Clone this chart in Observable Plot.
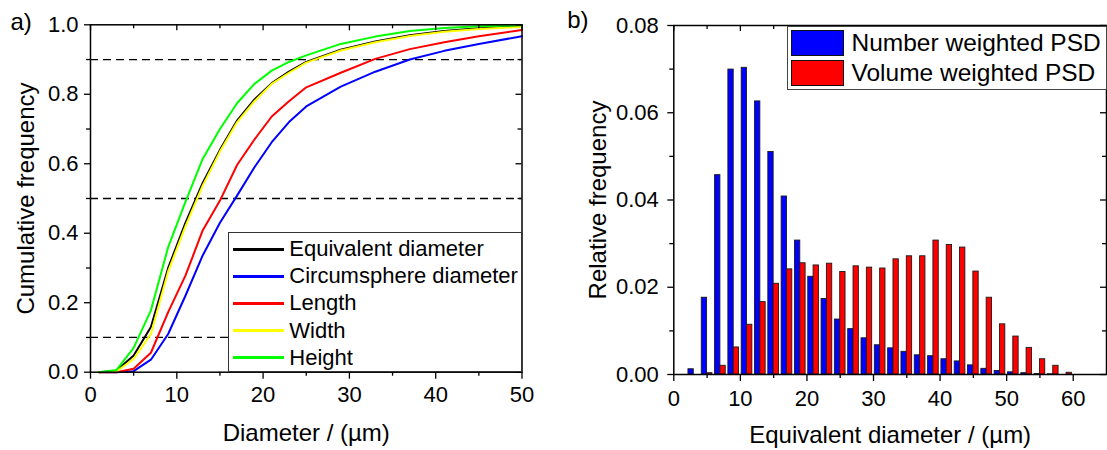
<!DOCTYPE html>
<html>
<head>
<meta charset="utf-8">
<script src="https://cdn.jsdelivr.net/npm/d3@7"></script>
<script src="https://cdn.jsdelivr.net/npm/@observablehq/plot@0.6"></script>
<style>
  html, body { margin: 0; padding: 0; background: #fff; }
  #wrap { position: relative; width: 1107px; height: 450px; display: flex; font-family: 'Liberation Sans', Arial, sans-serif; }
  #wrap svg { max-width: none; display: block; }
  .legend { position: absolute; background: #fff; box-sizing: border-box; }
  .item { position: absolute; white-space: nowrap; color: #000; }
</style>
</head>
<body>
<div id="wrap"></div>
<script>
// ---------- Panel a) cumulative frequency ----------
const diameter = [1, 3, 5, 7, 9, 11, 13, 15, 17, 19, 21, 23, 25, 29, 33, 37, 41, 45, 50];
const equivalentDiameter = [0, 0.004, 0.048, 0.13, 0.30, 0.43, 0.545, 0.64, 0.725, 0.785, 0.832, 0.865, 0.893, 0.928, 0.952, 0.970, 0.982, 0.990, 0.996];
const circumsphereDiameter = [0, 0, 0.003, 0.036, 0.11, 0.22, 0.336, 0.43, 0.509, 0.59, 0.662, 0.72, 0.765, 0.822, 0.865, 0.90, 0.925, 0.945, 0.967];
const lengthCum = [0, 0, 0.01, 0.056, 0.173, 0.278, 0.408, 0.494, 0.597, 0.67, 0.736, 0.78, 0.82, 0.862, 0.902, 0.93, 0.95, 0.967, 0.985];
const widthCum = [0, 0.002, 0.038, 0.11, 0.29, 0.42, 0.537, 0.635, 0.72, 0.78, 0.83, 0.862, 0.891, 0.926, 0.95, 0.968, 0.98, 0.988, 0.994];
const heightCum = [0, 0.006, 0.07, 0.178, 0.36, 0.49, 0.614, 0.70, 0.775, 0.83, 0.868, 0.893, 0.912, 0.945, 0.966, 0.982, 0.991, 0.996, 0.999];
const seriesNames = ["Equivalent diameter", "Circumsphere diameter", "Length", "Width", "Height"];
const seriesColors = ["#000000", "#0000ff", "#ff0000", "#ffff00", "#00ff00"];
const referenceLevels = [0.1, 0.5, 0.9];
const xTicksA = [0, 10, 20, 30, 40, 50];
const xMinorA = [5, 15, 25, 35, 45];
const yTicksA = [0, 0.2, 0.4, 0.6, 0.8, 1.0];
const yMinorA = [0.1, 0.3, 0.5, 0.7, 0.9];

// ---------- Panel b) relative frequency ----------
const binCenters = [3, 5, 7, 9, 11, 13, 15, 17, 19, 21, 23, 25, 27, 29, 31, 33, 35, 37, 39, 41, 43, 45, 47, 49, 51, 53, 55, 57, 59];
const numberPSD = [0.0012, 0.0176, 0.0457, 0.0699, 0.0703, 0.0626, 0.0510, 0.0408, 0.0307, 0.0224, 0.0173, 0.0126, 0.0104, 0.0083, 0.0067, 0.0060, 0.0052, 0.0044, 0.0042, 0.0035, 0.0030, 0.0021, 0.0013, 0.0008, 0.0005, 0.0003, 0.0001, 0.00005, 0];
const volumePSD = [0, 0.0003, 0.0020, 0.0062, 0.0114, 0.0166, 0.0208, 0.0241, 0.0255, 0.0250, 0.0254, 0.0235, 0.0248, 0.0245, 0.0243, 0.0264, 0.0271, 0.0271, 0.0307, 0.0297, 0.0291, 0.0236, 0.0176, 0.0115, 0.0087, 0.0061, 0.0035, 0.0020, 0.0004];
const psdNames = ["Number weighted PSD", "Volume weighted PSD"];
const psdColors = ["#0000ff", "#ff0000"];
const xTicksB = [0, 10, 20, 30, 40, 50, 60];
const xMinorB = [5, 15, 25, 35, 45, 55, 65];
const yTicksB = [0, 0.02, 0.04, 0.06, 0.08];
const yMinorB = [0.01, 0.03, 0.05, 0.07];

const FONT = "'Liberation Sans', Arial, sans-serif";
const H = 450;

// ----- build panel a -----
const W1 = 553, mA = {left: 90, right: 31.5, top: 24.3, bottom: 78.3};
const fhA = H - mA.top - mA.bottom, fwA = W1 - mA.left - mA.right;
const cumSeries = [equivalentDiameter, circumsphereDiameter, lengthCum, widthCum, heightCum];
const lineMarks = cumSeries.map((vals, s) =>
  Plot.line(diameter.map((d, i) => ({d, v: vals[i]})), {x: "d", y: "v", stroke: seriesColors[s], strokeWidth: 2})
);
const tickStyle = {stroke: "black", strokeWidth: 1.3};
const plotA = Plot.plot({
  width: W1, height: H,
  marginLeft: mA.left, marginRight: mA.right, marginTop: mA.top, marginBottom: mA.bottom,
  style: {fontFamily: FONT, fontSize: "22px", color: "black", background: "transparent", overflow: "visible"},
  x: {domain: [0, 50]},
  y: {domain: [0, 1]},
  marks: [
    Plot.ruleY(referenceLevels, {y: d => d, stroke: "black", strokeWidth: 1.3, strokeDasharray: "8,5"}),
    ...lineMarks,
    Plot.frame({stroke: "black", strokeWidth: 1.5}),
    Plot.axisX({ticks: xTicksA, tickSize: 7, tickPadding: 7, tickFormat: d => String(d), label: null, fontSize: 22, strokeWidth: 1.3}),
    Plot.tickX(xMinorA, {x: d => d, insetTop: fhA - 4, dy: 4, ...tickStyle}),
    Plot.tickX(xTicksA, {x: d => d, insetBottom: fhA - 6, ...tickStyle}),
    Plot.tickX(xMinorA, {x: d => d, insetBottom: fhA - 4, ...tickStyle}),
    Plot.axisY({ticks: yTicksA, tickSize: 6, tickPadding: 6, tickFormat: d3.format(".1f"), label: null, fontSize: 22, strokeWidth: 1.3}),
    Plot.tickY(yMinorA, {y: d => d, insetRight: fwA - 4, dx: -4, ...tickStyle}),
    Plot.tickY(yTicksA, {y: d => d, insetLeft: fwA - 6, ...tickStyle}),
    Plot.tickY(yMinorA, {y: d => d, insetLeft: fwA - 4, ...tickStyle}),
    Plot.text(["Diameter / (µm)"], {text: d => d, frameAnchor: "bottom", textAnchor: "middle", lineAnchor: "top", dy: 51.5, fontSize: 24}),
    Plot.text(["Cumulative frequency"], {text: d => d, frameAnchor: "left", textAnchor: "middle", lineAnchor: "top", rotate: -90, dx: -73.3, fontSize: 24}),
    Plot.text(["a)"], {text: d => d, frameAnchor: "top-left", textAnchor: "start", lineAnchor: "top", dx: -80, dy: -12.3, fontSize: 24})
  ]
});

// ----- build panel b -----
const W2 = 554, mB = {left: 120.3, right: 1, top: 25, bottom: 76};
const fhB = H - mB.top - mB.bottom, fwB = W2 - mB.left - mB.right;
const barHalf = 0.8;
const numberRows = binCenters.map((c, i) => ({c, v: numberPSD[i]})).filter(d => d.v > 0);
const volumeRows = binCenters.map((c, i) => ({c, v: volumePSD[i]})).filter(d => d.v > 0);
const plotB = Plot.plot({
  width: W2, height: H,
  marginLeft: mB.left, marginRight: mB.right, marginTop: mB.top, marginBottom: mB.bottom,
  style: {fontFamily: FONT, fontSize: "22px", color: "black", background: "transparent", overflow: "visible"},
  x: {domain: [0, 65]},
  y: {domain: [0, 0.08]},
  marks: [
    Plot.rectY(numberRows, {x1: d => d.c - barHalf, x2: d => d.c, y: "v", fill: psdColors[0], stroke: "#1a1a1a", strokeWidth: 0.9}),
    Plot.rectY(volumeRows, {x1: d => d.c, x2: d => d.c + barHalf, y: "v", fill: psdColors[1], stroke: "#1a1a1a", strokeWidth: 0.9}),
    Plot.frame({stroke: "black", strokeWidth: 1.5}),
    Plot.axisX({ticks: xTicksB, tickSize: 7, tickPadding: 9, tickFormat: d => String(d), label: null, fontSize: 22, strokeWidth: 1.3}),
    Plot.tickX(xMinorB.filter(d => d < 65), {x: d => d, insetTop: fhB - 4, dy: 4, ...tickStyle}),
    Plot.tickX(xTicksB, {x: d => d, insetBottom: fhB - 6, ...tickStyle}),
    Plot.tickX(xMinorB.filter(d => d < 65), {x: d => d, insetBottom: fhB - 4, ...tickStyle}),
    Plot.axisY({ticks: yTicksB, tickSize: 6, tickPadding: 9, tickFormat: d3.format(".2f"), label: null, fontSize: 22, strokeWidth: 1.3}),
    Plot.tickY(yMinorB, {y: d => d, insetRight: fwB - 4, dx: -4, ...tickStyle}),
    Plot.tickY(yTicksB, {y: d => d, insetLeft: fwB - 6, ...tickStyle}),
    Plot.tickY(yMinorB, {y: d => d, insetLeft: fwB - 4, ...tickStyle}),
    Plot.text(["Equivalent diameter / (µm)"], {text: d => d, frameAnchor: "bottom", textAnchor: "middle", lineAnchor: "top", dy: 51, fontSize: 24}),
    Plot.text(["Relative frequency"], {text: d => d, frameAnchor: "left", textAnchor: "middle", lineAnchor: "top", rotate: -90, dx: -85.3, fontSize: 24}),
    Plot.text(["b)"], {text: d => d, frameAnchor: "top-left", textAnchor: "start", lineAnchor: "top", dx: -106.6, dy: -15, fontSize: 24})
  ]
});

const wrap = document.getElementById("wrap");
wrap.appendChild(plotA);
wrap.appendChild(plotB);

// ----- legend a -----
const legA = document.createElement("div");
legA.className = "legend";
Object.assign(legA.style, {left: "227.7px", top: "231.7px", width: "294px", height: "140.5px", border: "1px solid #333"});
seriesNames.forEach((name, i) => {
  const cy = 16.6 + i * 27.1;
  const sw = document.createElement("div");
  sw.className = "item";
  Object.assign(sw.style, {left: "4px", top: (cy - 1.5) + "px", width: "51px", height: "3px", background: seriesColors[i]});
  legA.appendChild(sw);
  const tx = document.createElement("div");
  tx.className = "item";
  tx.textContent = name;
  Object.assign(tx.style, {left: "60.6px", top: (cy - 13) + "px", fontSize: "22px", lineHeight: "26px"});
  legA.appendChild(tx);
});
wrap.appendChild(legA);

// ----- legend b -----
const legB = document.createElement("div");
legB.className = "legend";
Object.assign(legB.style, {left: "787px", top: "26px", width: "319.5px", height: "64px", border: "1.5px solid #444"});
psdNames.forEach((name, i) => {
  const top = 3 + i * 30;
  const sw = document.createElement("div");
  sw.className = "item";
  Object.assign(sw.style, {left: "3px", top: top + "px", width: "53px", height: "26px", background: psdColors[i], border: "1px solid #111", boxSizing: "border-box"});
  legB.appendChild(sw);
  const tx = document.createElement("div");
  tx.className = "item";
  tx.textContent = name;
  Object.assign(tx.style, {left: "63.5px", top: (top - 1) + "px", fontSize: "24.5px", lineHeight: "28px"});
  legB.appendChild(tx);
});
wrap.appendChild(legB);
</script>
</body>
</html>
